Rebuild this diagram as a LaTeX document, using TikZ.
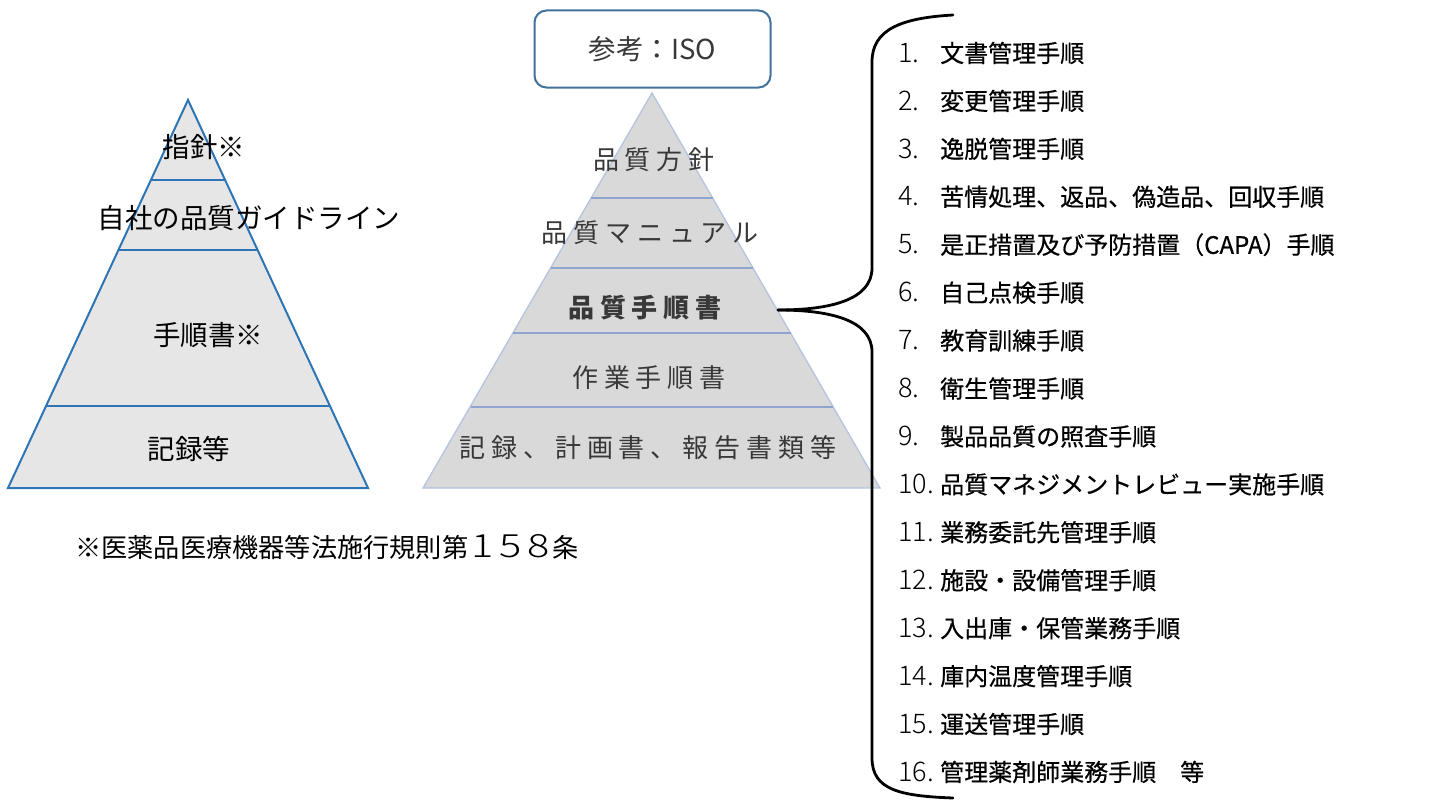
\documentclass[tikz,border=0pt]{standalone}
\usepackage{fontspec}
\setmainfont{Noto Sans CJK JP}
\newfontfamily\isofont[LetterSpace=23]{Noto Sans CJK JP}
\newfontfamily\listfont[FakeBold=0.5]{Noto Sans CJK JP}
\newfontfamily\numfont{Noto Sans CJK JP Light}
\definecolor{lblue}{HTML}{2E75B6}
\definecolor{lfill}{HTML}{E7E6E6}
\definecolor{cfill}{HTML}{D9D9D9}
\definecolor{cline}{HTML}{B4C3E0}
\definecolor{cdiv}{HTML}{8EA5D0}
\definecolor{ctext}{HTML}{383838}
\definecolor{isoblue}{HTML}{41719C}
\newcommand{\dg}[1]{\makebox[28pt]{\numfont\fontsize{32}{32}\selectfont\scalebox{1.3}[1]{#1}}}
\begin{document}
\begin{tikzpicture}[x=1pt,y=-1pt,
  lefttext/.style={font=\fontsize{27.5}{30}\selectfont, inner sep=0pt, text=black},
  isotext/.style={font=\isofont\fontsize{26}{30}\selectfont, inner sep=0pt, text=ctext},
  itemtext/.style={font=\fontsize{24}{28}\selectfont, inner sep=0pt, anchor=west, text=black},
  bracestyle/.style={line width=2.8pt, black, line cap=round}]
\useasboundingbox (0,0) rectangle (1451,800);
% left pyramid
\draw[lblue, line width=2pt, fill=lfill, line join=miter] (188,100) -- (368,488) -- (8,488) -- cycle;
\draw[lblue, line width=2pt] (151,180) -- (225,180);
\draw[lblue, line width=2pt] (118,250) -- (258,250);
\draw[lblue, line width=2pt] (46,406) -- (330,406);
\node[lefttext] (l1) at (204,147) {指針※};
\node[lefttext] (l2) at (249,218) {自社の品質ガイドライン};
\node[lefttext] (l3) at (208,335) {手順書※};
\node[lefttext] (l4) at (189,449) {記録等};
\node[lefttext, font=\fontsize{26.2}{30}\selectfont, anchor=west] (note) at (75,547) {※医薬品医療機器等法施行規則第\dg{1}\dg{5}\dg{8}条};
% ISO box
\node[draw=isoblue, line width=2pt, rounded corners=12pt, minimum width=236pt, minimum height=77pt, fill=white, inner sep=0pt, font=\fontsize{27.5}{30}\selectfont, text=ctext] (iso) at (652.5,49) {参考：ISO};
% center pyramid
\draw[cline, line width=1.3pt, fill=cfill] (652,93) -- (880,488) -- (423,488) -- cycle;
\draw[cdiv, line width=1.3pt] (591,198) -- (713,198);
\draw[cdiv, line width=1.3pt] (551,268) -- (753,268);
\draw[cdiv, line width=1.3pt] (513,333) -- (791,333);
\draw[cdiv, line width=1.3pt] (471,407) -- (833,407);
\node[isotext] (c1) at (654,160) {品質方針};
\node[isotext] (c2) at (650,233) {品質マニュアル};
\node[isotext, font=\isofont\fontsize{26}{30}\selectfont\bfseries] (c3) at (645,308) {品質手順書};
\node[isotext] (c4) at (649,378) {作業手順書};
\node[isotext] (c5) at (648,448) {記録、計画書、報告書類等};
% brace
\coordinate (tip) at (778,310);
\coordinate (btop) at (953,15);
\coordinate (bbot) at (953,798);
\draw[bracestyle] (btop) .. controls (900,18) and (872,30) .. (872,62) -- (872,268) .. controls (872,300) and (830,310) .. (tip);
\draw[bracestyle] (tip) .. controls (830,310) and (872,320) .. (872,352) -- (872,758) .. controls (872,790) and (900,796) .. (bbot);
% list
\foreach \n/\t [count=\i from 0] in {
  1./文書管理手順,
  2./変更管理手順,
  3./逸脱管理手順,
  4./苦情処理、返品、偽造品、回収手順,
  5./是正措置及び予防措置（CAPA）手順,
  6./自己点検手順,
  7./教育訓練手順,
  8./衛生管理手順,
  9./製品品質の照査手順,
  10./品質マネジメントレビュー実施手順,
  11./業務委託先管理手順,
  12./施設・設備管理手順,
  13./入出庫・保管業務手順,
  14./庫内温度管理手順,
  15./運送管理手順,
  16./管理薬剤師業務手順　等}{
  \node[itemtext] (item\i) at (898, 53+\i*47.93) {\makebox[42pt][l]{\numfont\fontsize{27}{28}\selectfont\n}{\listfont\t}};
}
\end{tikzpicture}
\end{document}
